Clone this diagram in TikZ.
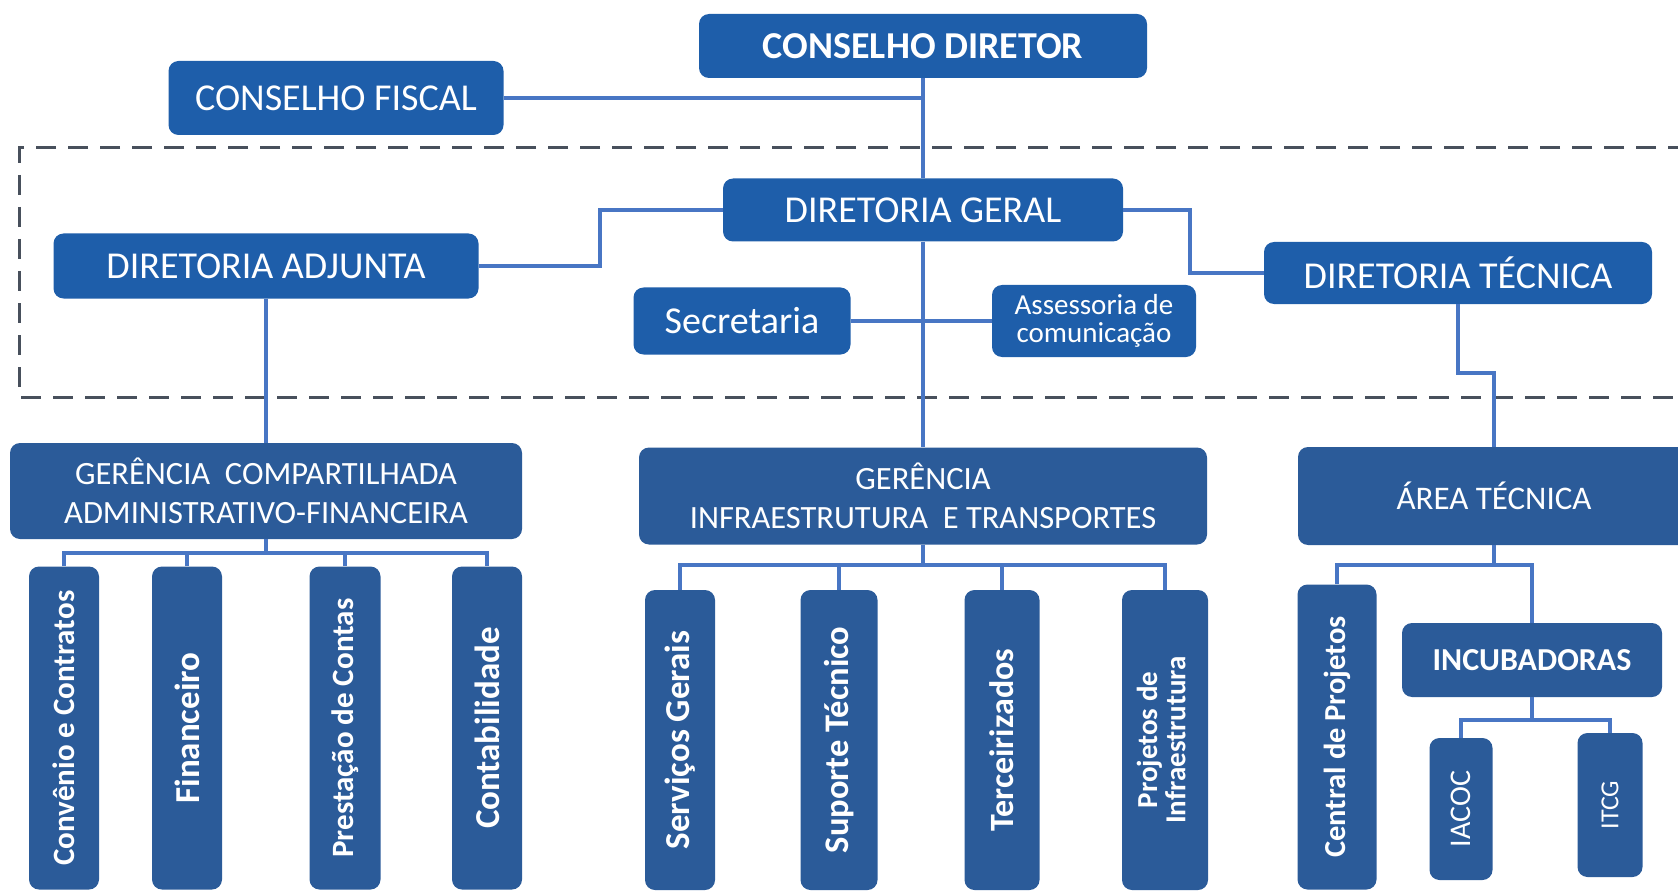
\documentclass[tikz,border=0pt]{standalone}
\usepackage{fontspec}
\setmainfont{Carlito}
\definecolor{topblue}{RGB}{30,94,170}
\definecolor{lowblue}{RGB}{43,91,153}
\definecolor{linkblue}{RGB}{72,118,196}
\definecolor{zonegray}{RGB}{72,80,92}
\begin{document}
\begin{tikzpicture}[x=1pt,y=-1pt,
    topbox/.style={rectangle, rounded corners=10pt, fill=topblue, text=white, inner sep=0pt, align=center, font=\fontsize{38}{44}\selectfont},
    lowbox/.style={rectangle, rounded corners=10pt, fill=lowblue, text=white, inner sep=0pt, align=center, font=\fontsize{32.5}{38.5}\selectfont},
    link/.style={draw=linkblue, line width=4pt},
    zone/.style={draw=zonegray, line width=3pt, dash pattern=on 20pt off 12pt}]
  \useasboundingbox (0,0) rectangle (1678,893);

  % Dashed zone round the directors
  \draw[zone] (1720,148) -- (19,148) -- (19,397) -- (1720,397);

  % Councils
  \node[topbox, minimum width=448pt, minimum height=64pt, font=\fontsize{38}{44}\selectfont\bfseries] (cd) at (923,46) {CONSELHO DIRETOR};
  \node[topbox, minimum width=335pt, minimum height=74pt] (cf) at (336,98) {CONSELHO FISCAL};

  % Directors
  \node[topbox, minimum width=400pt, minimum height=63pt] (dg) at (923,210) {DIRETORIA GERAL};
  \node[topbox, minimum width=425pt, minimum height=65pt] (da) at (266,266) {DIRETORIA ADJUNTA};
  \node[topbox, minimum width=388pt, minimum height=62pt] (dt) at (1458,273) {DIRETORIA TÉCNICA};
  \node[topbox, minimum width=217pt, minimum height=67pt] (sec) at (742,321) {Secretaria};
  \node[topbox, minimum width=204pt, minimum height=72pt, font=\fontsize{29}{28}\selectfont] (ac) at (1094,321) {Assessoria de\\comunicação};

  % Managements
  \node[lowbox, minimum width=512pt, minimum height=96pt] (gc) at (266,491) {GERÊNCIA\ \ COMPARTILHADA\\ADMINISTRATIVO-FINANCEIRA};
  \node[lowbox, minimum width=568pt, minimum height=97pt] (gi) at (923,496) {GERÊNCIA\\INFRAESTRUTURA\ \ E TRANSPORTES};
  \node[lowbox, minimum width=392pt, minimum height=98pt, font=\fontsize{33}{38}\selectfont] (at) at (1494,496) {ÁREA TÉCNICA};

  % Sectors under the shared management
  \node[lowbox, minimum width=70pt, minimum height=323pt, font=\fontsize{31}{34}\selectfont\bfseries] (cc) at (64,728) {\rotatebox{90}{Convênio e Contratos}};
  \node[lowbox, minimum width=70pt, minimum height=323pt, font=\fontsize{35}{38}\selectfont\bfseries] (fi) at (187,728) {\rotatebox{90}{Financeiro}};
  \node[lowbox, minimum width=71pt, minimum height=323pt, font=\fontsize{31}{34}\selectfont\bfseries] (pc) at (345,728) {\rotatebox{90}{Prestação de Contas}};
  \node[lowbox, minimum width=70pt, minimum height=323pt, font=\fontsize{35}{38}\selectfont\bfseries] (co) at (487,728) {\rotatebox{90}{Contabilidade}};

  % Sectors under infrastructure
  \node[lowbox, minimum width=70pt, minimum height=300pt, font=\fontsize{35}{38}\selectfont\bfseries] (sg) at (680,740) {\rotatebox{90}{Serviços Gerais}};
  \node[lowbox, minimum width=77pt, minimum height=300pt, font=\fontsize{34.5}{38}\selectfont\bfseries] (st) at (839,740) {\rotatebox{90}{Suporte Técnico}};
  \node[lowbox, minimum width=75pt, minimum height=300pt, font=\fontsize{34}{38}\selectfont\bfseries] (te) at (1002,740) {\rotatebox{90}{Terceirizados}};
  \node[lowbox, minimum width=86pt, minimum height=300pt, font=\fontsize{29}{27}\selectfont\bfseries] (pi) at (1165,740) {\rotatebox{90}{\begin{tabular}{@{}c@{}}Projetos de\\Infraestrutura\end{tabular}}};

  % Technical area
  \node[lowbox, minimum width=79pt, minimum height=305pt, font=\fontsize{30.5}{34}\selectfont\bfseries] (cp) at (1337,737) {\rotatebox{90}{Central de Projetos}};
  \node[lowbox, minimum width=260pt, minimum height=74pt, font=\fontsize{32}{36}\selectfont\bfseries] (inc) at (1532,660) {INCUBADORAS};
  \node[lowbox, minimum width=63pt, minimum height=142pt, font=\fontsize{30}{34}\selectfont] (iacoc) at (1461,809) {\rotatebox{90}{IACOC}};
  \node[lowbox, minimum width=65pt, minimum height=144pt, font=\fontsize{26}{30}\selectfont] (itcg) at (1610,805) {\rotatebox{90}{ITCG}};

  % Links between councils and directors
  \draw[link] (cf.east) -- (cf.east -| cd.south);
  \draw[link] (cd.south) -- (dg.north);
  \draw[link] (da.east) -- ++(121,0) |- (dg.west);
  \draw[link] (dg.east) -- ++(67,0) |- (dt.west);
  \draw[link] (sec.east) -- (ac.west);

  % Links down to the managements
  \draw[link] (dg.south) -- (gi.north);
  \draw[link] (da.south) -- (gc.north);
  \draw[link] (dt.south) -- ++(0,69) -| (at.north);

  % Buses to the sectors
  \path (gc.south) ++(0,14) coordinate (gcbus);
  \draw[link] (gc.south) -- (gcbus);
  \draw[link] (cc.north) |- (gcbus) -| (co.north);
  \foreach \n in {fi,pc}
    \draw[link] (\n.north) -- (\n.north |- gcbus);

  \path (gi.south) ++(0,20) coordinate (gibus);
  \draw[link] (gi.south) -- (gibus);
  \draw[link] (sg.north) |- (gibus) -| (pi.north);
  \foreach \n in {st,te}
    \draw[link] (\n.north) -- (\n.north |- gibus);

  \path (at.south) ++(0,20) coordinate (atbus);
  \draw[link] (at.south) -- (atbus);
  \draw[link] (cp.north) |- (atbus) -| (inc.north);

  \path (inc.south) ++(0,23) coordinate (incbus);
  \draw[link] (inc.south) -- (incbus);
  \draw[link] (iacoc.north) |- (incbus) -| (itcg.north);
\end{tikzpicture}
\end{document}
